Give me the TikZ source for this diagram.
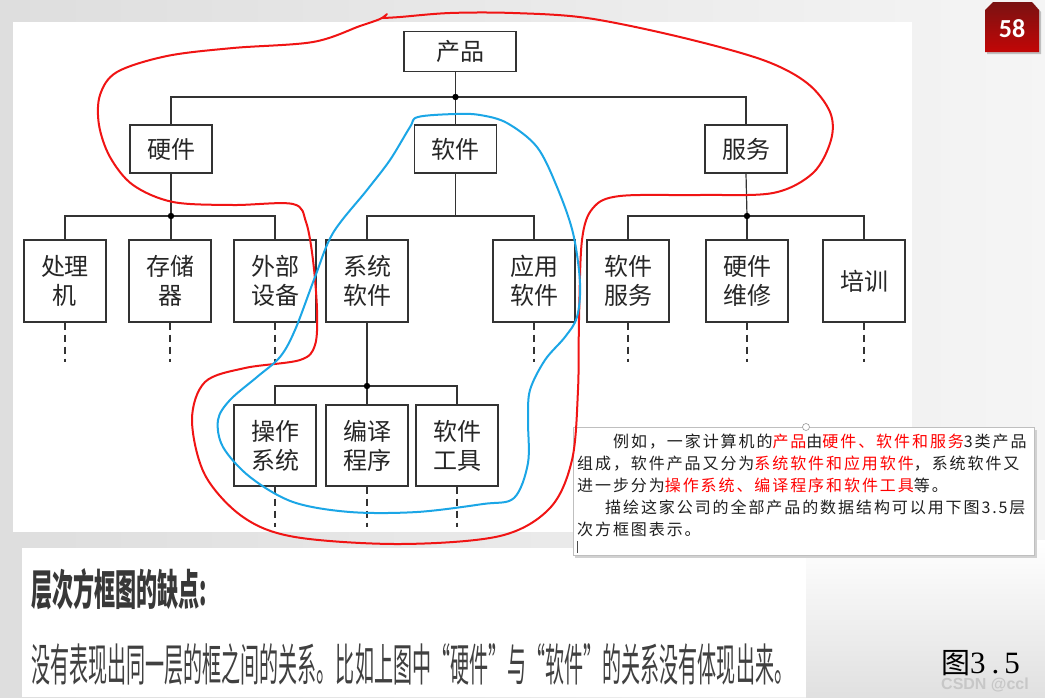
\documentclass[tikz,border=0pt]{standalone}
\usepackage{fontspec}
\usepackage{graphicx}
\newfontfamily\cjk{Noto Sans CJK SC}
\newfontfamily\cjkls[LetterSpace=12]{Noto Sans CJK SC}
\newfontfamily\carlito{Carlito}
\newfontfamily\lserif{Liberation Serif}
\newfontfamily\lsans{Liberation Sans}
\definecolor{penblue}{HTML}{1BA6E6}
\definecolor{penred}{HTML}{F01414}
\definecolor{badgetop}{HTML}{7A1212}
\definecolor{badgebot}{HTML}{C20606}
\begin{document}
\begin{tikzpicture}[x=1pt,y=-1pt,
  box/.style={draw=black!80, line width=1.2pt, fill=white, inner sep=0pt, align=center, text=black!85,
    font=\cjk\fontsize{24}{29}\selectfont},
  lvone/.style={box, minimum width=112pt, minimum height=40pt},
  lvtwo/.style={box, minimum width=82pt, minimum height=48pt},
  lvthree/.style={box, minimum width=82pt, minimum height=82pt},
  conn/.style={draw=black!80, line width=1.2pt},
  dashconn/.style={conn, dash pattern=on 7pt off 5pt},
  redpen/.style={draw=penred, line width=2pt, line cap=round, line join=round},
  bluepen/.style={draw=penblue, line width=2pt, line cap=round, line join=round},
  para/.style={anchor=base west, inner sep=0pt, text=black!88, font=\cjkls\fontsize{16}{20}\selectfont}
]
\useasboundingbox (0,0) rectangle (1045,697);
% slide background
\shade[left color=black!13, right color=black!4] (0,0) rectangle (1045,697);
\shade[top color=white, bottom color=black!12] (806,540) rectangle (1045,697);
\fill[white] (13,22) rectangle (912,532);
\fill[white] (22,548) rectangle (806,697);

% ---- tree ----
\node[lvone] (prod) at (460,51.5) {产品};
\node[lvtwo] (hw)  at (171,149) {硬件};
\node[lvtwo] (sw)  at (455.5,149) {软件};
\node[lvtwo] (svc) at (746,149) {服务};

\node[lvthree] (proc) at (65,281)  {处理\\机};
\node[lvthree] (mem)  at (170,281) {存储\\器};
\node[lvthree] (ext)  at (275,281) {外部\\设备};
\node[lvthree] (sys)  at (367,281) {系统\\软件};
\node[lvthree] (app)  at (534,281) {应用\\软件};
\node[lvthree] (swsvc) at (628,281) {软件\\服务};
\node[lvthree] (hwm)  at (747,281) {硬件\\维修};
\node[lvthree] (train) at (864,281) {培训};

\node[lvthree, minimum height=81pt] (os)   at (275,445.5) {操作\\系统};
\node[lvthree, minimum height=81pt] (comp) at (367,445.5) {编译\\程序};
\node[lvthree, minimum height=81pt] (tool) at (457,445.5) {软件\\工具};

\coordinate (j1) at (455.5,97);
\coordinate (j2) at (171,216);
\coordinate (j3) at (455.5,216);
\coordinate (j4) at (747,216);
\coordinate (j5) at (367,386);

\draw[conn] (prod.south -| j1) -- (j1);
\draw[conn] (hw.north) |- (j1) -| (svc.north);
\draw[conn] (j1) -- (sw.north);
\fill (j1) circle (3.2);

\draw[conn] (hw.south) -- (j2);
\draw[conn] (proc.north) |- (j2) -| (ext.north);
\draw[conn] (j2) -- (j2 |- mem.north);
\fill (j2) circle (3.2);

\draw[conn] (sw.south) -- (j3);
\draw[conn] (sys.north) |- (j3) -| (app.north);

\draw[conn] (svc.south) -- (j4);
\draw[conn] (swsvc.north) |- (j4) -| (train.north);
\draw[conn] (j4) -- (hwm.north);
\fill (j4) circle (3.2);

\draw[conn] (sys.south) -- (j5);
\draw[conn] (os.north) |- (j5) -| (tool.north);
\draw[conn] (j5) -- (comp.north);
\fill (j5) circle (3.2);

\foreach \n in {proc,mem,ext,app,swsvc,hwm,train}
  \draw[dashconn] (\n.south) -- ++(0,39);
\foreach \n in {os,comp,tool}
  \draw[dashconn] (\n.south) -- ++(0,40);

% ---- text box ----
\fill[black!18] (575,430) rectangle (1037,558);
\fill[white] (573,427) rectangle (1034,555);
\draw[black!25, line width=0.6pt] (573,427) rectangle (1034,555);
\draw[black!40, line width=0.6pt, fill=white] (806,427) circle (3.5);
\draw[black!70, line width=0.8pt] (577,541) -- (577,553);
\node[para] (l1) at (613,447) {例如，一家计算机的\textcolor{red}{产品}由\textcolor{red}{硬件、软件和服务}3类产品};
\node[para] (l2) at (577,469) {组成，软件产品又分为\textcolor{red}{系统软件和应用软件}，系统软件又};
\node[para] (l3) at (577,491) {进一步分为\textcolor{red}{操作系统、编译程序和软件工具}等。};
\node[para] (l4) at (605,513) {描绘这家公司的全部产品的数据结构可以用下图3.5层};
\node[para] (l5) at (577,535) {次方框图表示。};

% ---- pen annotations ----
\draw[redpen] plot[smooth, tension=0.55] coordinates {
 (387,14) (380,19) (360,26) (313,42) (233,48) (167,56) (117,72) (100,95) (99,125)
 (110,157) (133,185) (173,202) (233,205) (293,204) (306,222) (313,260) (317,310)
 (315,345) (300,360) (245,368) (205,382) (192,420) (205,475) (243,517) (295,537)
 (400,544) (500,536) (550,508) (572,460) (578,390) (579,320) (582,240) (593,208)
 (620,196) (700,195) (773,193) (813,173) (831,140) (830,112) (807,83) (763,60)
 (680,37) (587,18) (513,13) (450,13) (400,17) (383,18)};
\draw[bluepen] plot[smooth cycle, tension=0.55] coordinates {
 (418,117) (455,114) (480,115) (507,123) (537,147) (557,187) (573,233) (580,283)
 (577,317) (565,337) (545,360) (530,390) (528,420) (528,463) (514,498) (483,504)
 (417,512) (350,512) (293,502) (250,477) (223,447) (218,420) (230,400) (257,377)
 (280,357) (295,330) (315,277) (333,233) (367,190) (390,160) (410,127)};

% ---- bottom text ----
\node[anchor=base west, inner sep=0pt, text=black!78] (head) at (31,605)
  {\resizebox{176pt}{37pt}{\cjk\bfseries 层次方框图的缺点:}};
\node[anchor=base west, inner sep=0pt, text=black!75] (body) at (31,681)
  {\resizebox{762pt}{38pt}{\cjk 没有表现出同一层的框之间的关系。比如上图中“硬件”与“软件”的关系没有体现出来。}};

% ---- figure caption and watermark ----
\node[anchor=base west, inner sep=0pt, text=black] (cap) at (941,673)
  {{\cjk\fontsize{29}{30}\selectfont 图}{\lserif\fontsize{31}{32}\selectfont 3\hspace{6pt}.\hspace{5pt}5}};
\node[anchor=base west, inner sep=0pt, text=black!22] (wm) at (941,689)
  {\lsans\bfseries\fontsize{16}{18}\selectfont CSDN @ccl};

% ---- page badge ----
\fill[black!25] (987,12) -- (995,4) -- (1034,4) -- (1041,12) -- (1041,54) -- (987,54) -- cycle;
\shade[top color=badgetop, bottom color=badgebot]
  (985,10) -- (993,2) -- (1032,2) -- (1039,10) -- (1039,52) -- (985,52) -- cycle;
\node[text=white, font=\carlito\bfseries\fontsize{26}{28}\selectfont] (badge) at (1012,29) {58};
\end{tikzpicture}
\end{document}
